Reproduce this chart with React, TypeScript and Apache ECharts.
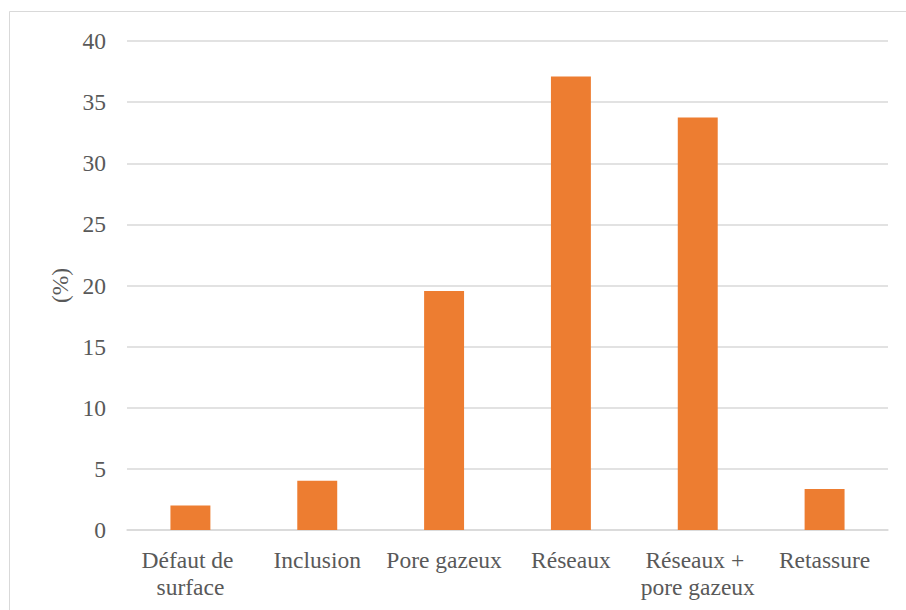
import React, { useEffect, useRef } from "react";
import * as echarts from "echarts";

const categories = [
  "Défaut de surface",
  "Inclusion",
  "Pore gazeux",
  "Réseaux",
  "Réseaux + pore gazeux",
  "Retassure",
];
const values = [2.0, 4.02, 19.55, 37.1, 33.75, 3.35];
const yTicks = { min: 0, max: 40, interval: 5 };
const yName = "(%)";

export default function App() {
  const ref = useRef<HTMLDivElement>(null);
  useEffect(() => {
    if (!ref.current) return;
    const chart = echarts.init(ref.current, undefined, { renderer: "svg" });
    const font = "Liberation Serif";
    chart.setOption({
      animation: false,
      backgroundColor: "#ffffff",
      textStyle: { fontFamily: font },
      graphic: [
        {
          type: "rect",
          shape: { x: 9.5, y: 11.5, width: 1000, height: 1000 },
          style: { fill: "none", stroke: "#d9d9d9", lineWidth: 1 },
          silent: true,
        },
      ],
      grid: { left: 127, right: 18, top: 41, bottom: 80 },
      xAxis: {
        type: "category",
        data: categories,
        axisLine: { show: true, lineStyle: { color: "#d9d9d9", width: 1.5 } },
        axisTick: { show: false },
        axisLabel: {
          color: "#595959",
          fontFamily: font,
          fontSize: 23.5,
          margin: 16,
          lineHeight: 27,
          width: 124,
          overflow: "break",
          interval: 0,
        },
      },
      yAxis: {
        type: "value",
        min: yTicks.min,
        max: yTicks.max,
        interval: yTicks.interval,
        name: yName,
        nameLocation: "middle",
        nameGap: 53,
        nameTextStyle: { color: "#595959", fontFamily: font, fontSize: 23.5 },
        axisLine: { show: false },
        axisTick: { show: false },
        axisLabel: { color: "#595959", fontFamily: font, fontSize: 23.5, margin: 21 },
        splitLine: { lineStyle: { color: "#d9d9d9", width: 1.5 } },
      },
      series: [
        {
          type: "bar",
          data: values,
          barWidth: "31.5%",
          itemStyle: { color: "#ED7D31" },
        },
      ],
    });
    return () => chart.dispose();
  }, []);
  return (
    <div
      ref={ref}
      style={{ position: "fixed", left: 0, top: 0, width: 906, height: 610 }}
    />
  );
}
